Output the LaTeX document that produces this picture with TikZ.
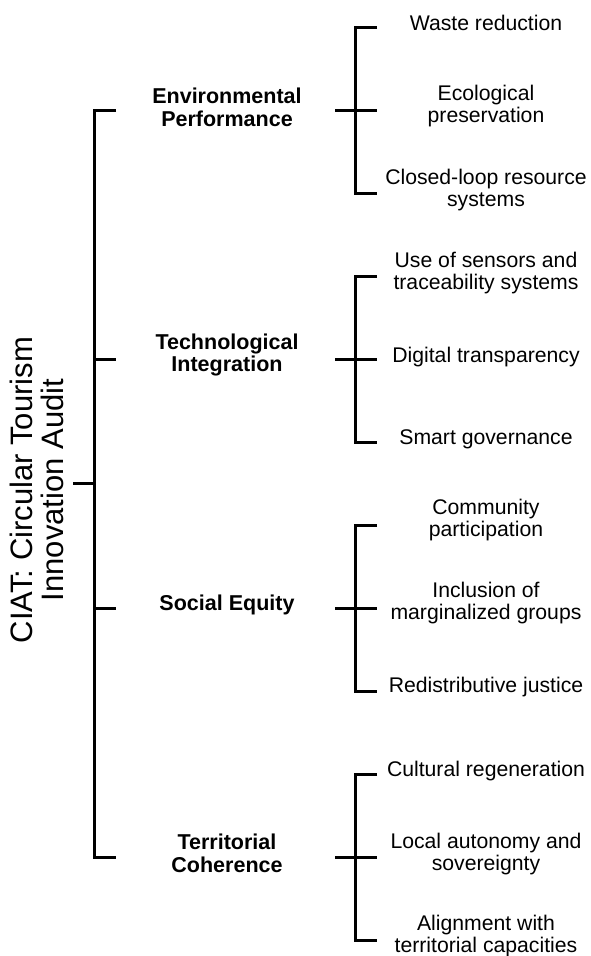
\documentclass[tikz,border=0pt]{standalone}
\usepackage{fontspec}
\setmainfont{Liberation Sans}
\begin{document}
\begin{tikzpicture}[x=1pt,y=-1pt,
  conn/.style={line width=3pt, line join=miter},
  leaf/.style={align=center, inner sep=0pt, font=\fontsize{21.2}{22.8}\selectfont},
  cat/.style={align=center, inner sep=0pt, font=\bfseries\fontsize{21.5}{22.8}\selectfont},
  rootlabel/.style={align=center, inner sep=0pt, rotate=90, font=\fontsize{31}{30.5}\selectfont}]
\useasboundingbox[fill=white] (0,0) rectangle (590,956);

% root
\node[rootlabel] (root) at (37,490) {CIAT: Circular Tourism\\Innovation Audit};
\coordinate (rootE) at (73,483.5);
\coordinate (busR) at (94,483.5);
\draw[conn] (rootE) -- (busR);

% level-1 bus
\foreach \n/\c in {env/110,tech/359,soc/608,terr/857}{
  \coordinate (\n-bus) at (94,\c);
  \coordinate (\n-tick) at (116,\c);
  \coordinate (\n-out) at (335,\c);
  \coordinate (\n-br) at (355,\c);
  \coordinate (\n-brT) at (355,\c-83);
  \coordinate (\n-brB) at (355,\c+83);
  \coordinate (\n-l1) at (377,\c-83);
  \coordinate (\n-l2) at (377,\c);
  \coordinate (\n-l3) at (377,\c+83);
}
\draw[conn] (env-tick) -- (env-bus) -- (terr-bus) -- (terr-tick);
\draw[conn] (tech-bus) -- (tech-tick);
\draw[conn] (soc-bus) -- (soc-tick);

% level-1 labels
\node[cat] (env) at (227,107) {Environmental\\Performance};
\node[cat] (tech) at (227,355) {Technological\\Integration};
\node[cat] (soc) at (227,605) {Social Equity};
\node[cat] (terr) at (227,853) {Territorial\\Coherence};

% level-2 brackets
\foreach \n in {env,tech,soc,terr}{
  \draw[conn] (\n-out) -- (\n-l2);
  \draw[conn] (\n-l1) -- (\n-brT) -- (\n-brB) -- (\n-l3);
}

% leaves
\node[leaf] (e1) at (486,23) {Waste reduction};
\node[leaf] (e2) at (486,106) {Ecological\\preservation};
\node[leaf] (e3) at (486,190) {Closed-loop resource\\systems};

\node[leaf] (t1) at (486,273) {Use of sensors and\\traceability systems};
\node[leaf] (t2) at (486,357) {Digital transparency};
\node[leaf] (t3) at (486,439) {Smart governance};

\node[leaf] (s1) at (486,520) {Community\\participation};
\node[leaf] (s2) at (486,603) {Inclusion of\\marginalized groups};
\node[leaf] (s3) at (486,687) {Redistributive justice};

\node[leaf] (r1) at (486,771) {Cultural regeneration};
\node[leaf] (r2) at (486,854) {Local autonomy and\\sovereignty};
\node[leaf] (r3) at (486,936) {Alignment with\\territorial capacities};
\end{tikzpicture}
\end{document}
